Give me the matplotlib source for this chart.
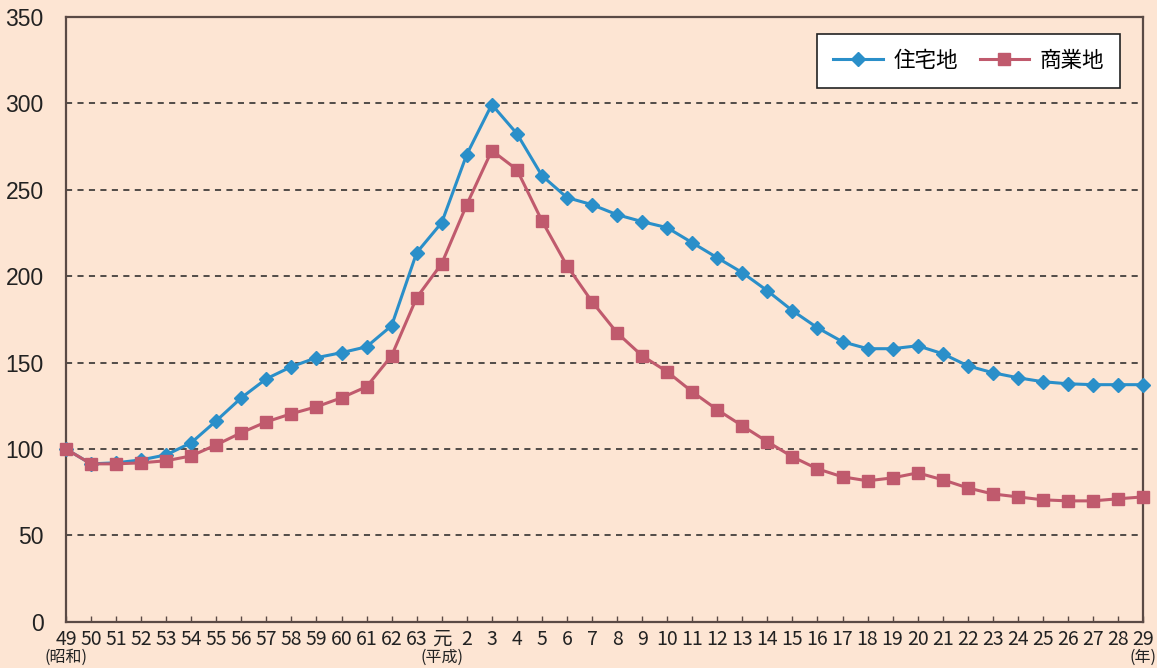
import numpy as np
import matplotlib.pyplot as plt
from matplotlib.transforms import blended_transform_factory

plt.rcParams['font.family'] = ['Liberation Sans', 'Noto Sans CJK JP', 'DejaVu Sans']

# x categories: Showa 49-63, Heisei 元, 2-29
years = [str(y) for y in range(49, 64)] + ['元'] + [str(y) for y in range(2, 30)]

residential = [100, 91.4, 92, 93.7, 96.6, 103.6, 116.3, 129.6, 140.6, 147.6,
               152.8, 155.7, 159.1, 171.3, 213.5, 230.9, 270.3, 299.2, 282.4, 258.1,
               245.4, 241.3, 235.5, 231.5, 228.0, 219.3, 210.6, 202.0, 191.5, 180.0,
               170.1, 162.0, 158.0, 158.0, 159.7, 155.1, 148.1, 144.1, 141.2, 138.9,
               137.7, 137.2, 137.2, 137.2]
commercial = [100, 91.4, 91.4, 92, 93.2, 96, 102.4, 109.4, 115.7, 120.4,
              124.4, 129.6, 136, 153.9, 187.5, 207.2, 241.3, 272.6, 261.6, 232,
              206, 185.2, 167.2, 153.9, 144.7, 133.1, 122.7, 113.4, 104.2, 95.5,
              88.5, 83.9, 81.6, 83.3, 86.2, 82.2, 77.5, 74, 72.3, 70.6,
              70, 70, 71.2, 72.3]
yticks = [0, 50, 100, 150, 200, 250, 300, 350]

bg = '#FDE5D3'
blue = '#2A8FC9'
red = '#C05A6D'
edge = '#5a4a45'
txt_col = '#222222'

fig = plt.figure(figsize=(11.57, 6.68), dpi=100, facecolor=bg)
ax = fig.add_axes([0.057, 0.069, 0.931, 0.906], facecolor=bg)

x = np.arange(len(years))
ax.plot(x, residential, color=blue, lw=2.2, marker='D', ms=7.5, label='住宅地',
        zorder=3, clip_on=False)
ax.plot(x, commercial, color=red, lw=2.2, marker='s', ms=9, label='商業地',
        zorder=3, clip_on=False)

ax.set_xlim(0, len(years) - 1)
ax.set_ylim(0, 350)
ax.set_yticks(yticks)
ax.set_xticks(x)
ax.set_xticklabels(years, family=['Liberation Sans Narrow', 'Noto Sans CJK JP'])

for yv in yticks[1:-1]:
    ax.axhline(yv, color=txt_col, lw=1.1, ls=(0, (4, 3.5)), zorder=1)

for s in ax.spines.values():
    s.set_color(edge)
    s.set_linewidth(1.6)

ax.tick_params(axis='x', direction='in', length=4, width=1, color=edge,
               labelsize=14, pad=5, labelcolor=txt_col)
ax.tick_params(axis='y', length=0, labelsize=16.5, pad=16, labelcolor=txt_col)

trans = blended_transform_factory(ax.transData, ax.transAxes)
for xi, t in [(0, '(昭和)'), (years.index('元'), '(平成)'), (len(years) - 1, '(年)')]:
    ax.text(xi, -0.058, t, transform=trans, ha='center', va='center',
            fontsize=11.5, color=txt_col, family=['Noto Sans CJK JP'])

leg = ax.legend(loc='upper right', bbox_to_anchor=(0.979, 0.972), ncol=2,
                borderaxespad=0, prop={'family': 'Noto Sans CJK JP', 'size': 15.5},
                frameon=True, fancybox=False, edgecolor=txt_col, framealpha=1,
                borderpad=0.75, handlelength=2.3, handletextpad=0.5,
                columnspacing=1.0)
leg.get_frame().set_linewidth(1.2)

fig.savefig('out.png', dpi=100, facecolor=bg)
